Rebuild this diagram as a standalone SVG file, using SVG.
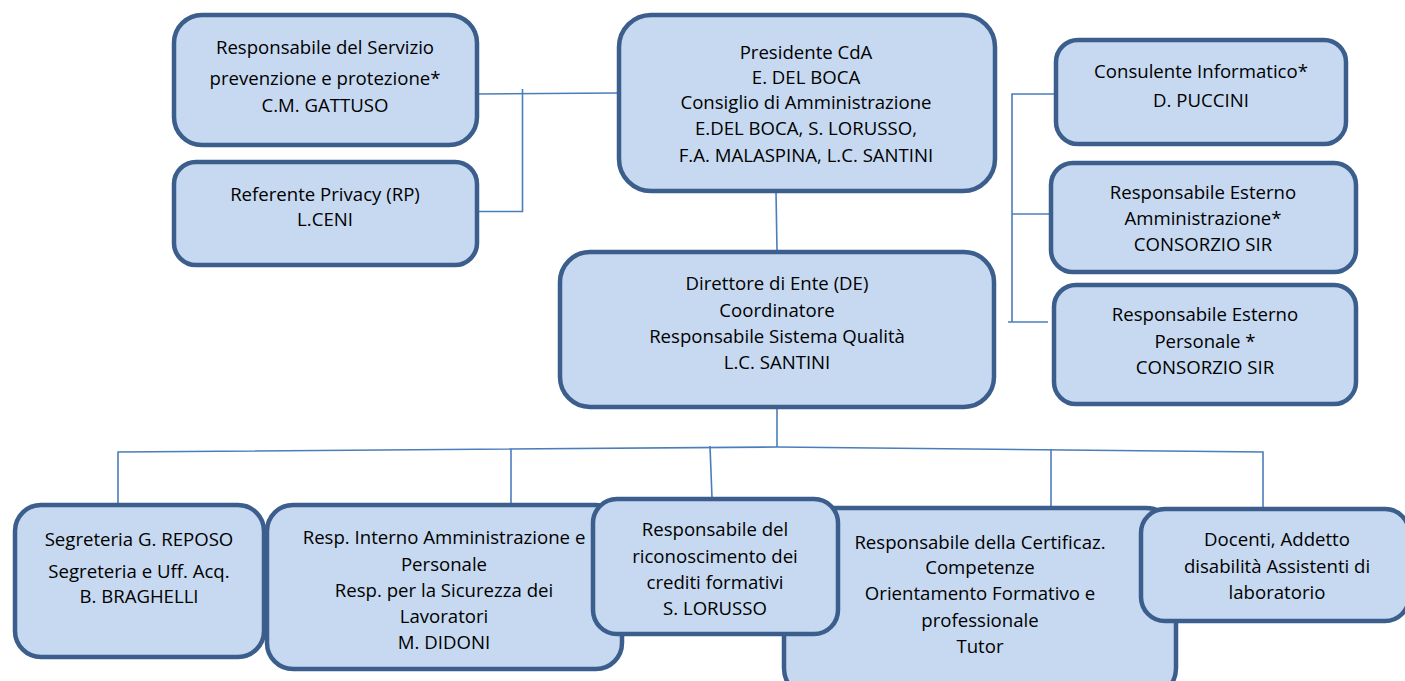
<svg xmlns="http://www.w3.org/2000/svg" width="1405" height="681" viewBox="0 0 1405 681">
<style>
.box{fill:#c6d9f1;stroke:#3b5e8c;stroke-width:4.5}
.con{fill:none;stroke:#4a7ebb;stroke-width:1.6}
text{font-family:"Open Sans","Noto Sans","Liberation Sans",sans-serif;font-size:18.6px;fill:#000;text-anchor:middle}
</style>
<rect width="1405" height="681" fill="#fff"/>
<g id="connectors">
<polyline class="con" points="478,94 617,93"/>
<polyline class="con" points="522.5,89 522.5,212"/>
<polyline class="con" points="478,211.5 523,211.5"/>
<polyline class="con" points="1055,94 1012,94 1012,322"/>
<polyline class="con" points="1012,214 1050,214"/>
<polyline class="con" points="1008,322 1048,322"/>
<polyline class="con" points="776,192 777,250"/>
<polyline class="con" points="777,408 777,447"/>
<polyline class="con" points="118,505 118,452 777,447 1263,452 1263,507"/>
<polyline class="con" points="511,449 511,503"/>
<polyline class="con" points="710,446 712,498"/>
<polyline class="con" points="1051,449 1051,506"/>
</g>
<g id="n-rspp">
<rect class="box" x="174" y="15" width="303" height="130" rx="28"/>
<text x="325" y="54">Responsabile del Servizio</text>
<text x="325" y="85">prevenzione e protezione*</text>
<text x="325" y="112">C.M. GATTUSO</text>
</g>
<g id="n-privacy">
<rect class="box" x="174" y="162" width="303" height="103" rx="22"/>
<text x="325" y="201">Referente Privacy (RP)</text>
<text x="325" y="226">L.CENI</text>
</g>
<g id="n-presidente">
<rect class="box" x="619" y="15" width="376" height="176" rx="32"/>
<text x="806" y="59">Presidente CdA</text>
<text x="806" y="84">E. DEL BOCA</text>
<text x="806" y="109">Consiglio di Amministrazione</text>
<text x="806" y="135">E.DEL BOCA, S. LORUSSO,</text>
<text x="806" y="162">F.A. MALASPINA, L.C. SANTINI</text>
</g>
<g id="n-consulente">
<rect class="box" x="1056" y="40" width="290" height="104" rx="22"/>
<text x="1201" y="78">Consulente Informatico*</text>
<text x="1201" y="107">D. PUCCINI</text>
</g>
<g id="n-rea">
<rect class="box" x="1051" y="163" width="305" height="109" rx="22"/>
<text x="1203" y="199">Responsabile Esterno</text>
<text x="1203" y="225">Amministrazione*</text>
<text x="1203" y="251">CONSORZIO SIR</text>
</g>
<g id="n-rep">
<rect class="box" x="1054" y="285" width="302" height="119" rx="22"/>
<text x="1205" y="321">Responsabile Esterno</text>
<text x="1205" y="348">Personale *</text>
<text x="1205" y="374">CONSORZIO SIR</text>
</g>
<g id="n-direttore">
<rect class="box" x="560" y="252" width="434" height="155" rx="30"/>
<text x="777" y="290">Direttore di Ente (DE)</text>
<text x="777" y="317">Coordinatore</text>
<text x="777" y="343">Responsabile Sistema Qualità</text>
<text x="777" y="369">L.C. SANTINI</text>
</g>
<g id="n-segreteria">
<rect class="box" x="15" y="505" width="249" height="152" rx="26"/>
<text x="139" y="546">Segreteria G. REPOSO</text>
<text x="139" y="578">Segreteria e Uff. Acq.</text>
<text x="139" y="603">B. BRAGHELLI</text>
</g>
<g id="n-interno">
<rect class="box" x="267" y="505" width="355" height="164" rx="26"/>
<text x="444" y="544">Resp. Interno Amministrazione e</text>
<text x="444" y="571">Personale</text>
<text x="444" y="597">Resp. per la Sicurezza dei</text>
<text x="444" y="623">Lavoratori</text>
<text x="444" y="649">M. DIDONI</text>
</g>
<g id="n-certificaz">
<rect class="box" x="784" y="508" width="392" height="190" rx="30"/>
<text x="980" y="549">Responsabile della Certificaz.</text>
<text x="980" y="574">Competenze</text>
<text x="980" y="600">Orientamento Formativo e</text>
<text x="980" y="627">professionale</text>
<text x="980" y="653">Tutor</text>
</g>
<g id="n-crediti">
<rect class="box" x="593" y="499" width="245" height="135" rx="24"/>
<text x="715" y="536">Responsabile del</text>
<text x="715" y="563">riconoscimento dei</text>
<text x="715" y="589">crediti formativi</text>
<text x="715" y="615">S. LORUSSO</text>
</g>
<g id="n-docenti">
<rect class="box" x="1141" y="509" width="268" height="112" rx="24"/>
<text x="1277" y="546">Docenti, Addetto</text>
<text x="1277" y="573">disabilità Assistenti di</text>
<text x="1277" y="599">laboratorio</text>
</g>
</svg>
